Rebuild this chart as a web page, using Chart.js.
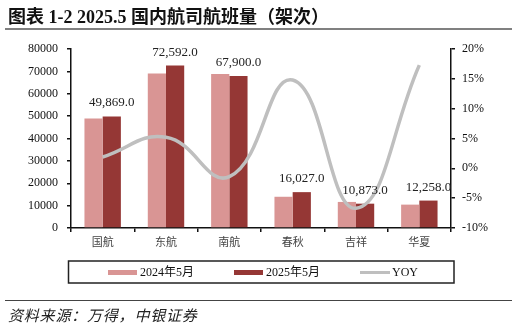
<!DOCTYPE html>
<html><head><meta charset="utf-8">
<script src="https://cdn.jsdelivr.net/npm/chart.js@4/dist/chart.umd.min.js"></script>
<style>
html,body{margin:0;padding:0;background:#fff;width:517px;height:328px;overflow:hidden;}
#wrap{position:relative;width:517px;height:328px;}
canvas{position:absolute;left:0;top:0;}
#title{position:absolute;left:8px;top:2px;font:bold 18px "Liberation Serif","Noto Sans CJK SC";color:#111;white-space:nowrap;}
#tline{position:absolute;left:5px;top:28px;width:507px;height:2px;background:#808080;}
#fline{position:absolute;left:5px;top:300px;width:507px;height:1px;background:#444;}
#src{position:absolute;left:8px;top:304px;font:italic 15px "Noto Sans CJK SC";letter-spacing:0.8px;color:#222;white-space:nowrap;}
</style></head><body>
<div id="wrap">
<canvas id="c" width="517" height="328"></canvas>
<div id="title">图表 1-2 2025.5 国内航司航班量（架次）</div>
<div id="tline"></div>
<div id="fline"></div>
<div id="src">资料来源：万得，中银证券</div>
</div>
<script>
const categories = ["国航","东航","南航","春秋","吉祥","华夏"];
const series2024 = [48950, 69000, 68800, 13960, 11650, 10450];
const series2025 = [49869, 72592, 67900, 16027, 10873, 12258];
const yoy = [1.9, 5.2, -1.4, 14.8, -6.7, 17.3];
const seriesNames = ["2024年5月","2025年5月","YOY"];

const SERIF = '"Liberation Serif","Noto Sans CJK SC"';
const colors = ["#D99594","#953735","#BFBFBF"];

const labelPlugin = {
  id:'labels',
  afterDatasetsDraw(chart){
    const ctx = chart.ctx;
    const meta = chart.getDatasetMeta(2);
    ctx.save();
    ctx.font = '13px ' + SERIF;
    ctx.fillStyle = '#222';
    ctx.textAlign = 'center';
    ctx.textBaseline = 'alphabetic';
    meta.data.forEach((el,i)=>{
      const v = series2025[i];
      const s = v.toLocaleString('en-US',{minimumFractionDigits:1,maximumFractionDigits:1});
      ctx.fillText(s, el.x, el.y - 10);
    });
    ctx.restore();
  }
};

const legendPlugin = {
  id:'customLegend',
  afterDraw(chart){
    const ctx = chart.ctx;
    const a = chart.chartArea;
    ctx.save();
    ctx.strokeStyle = '#222';
    ctx.lineWidth = 1.5;
    ctx.strokeRect(a.left - 2.5, 261, (a.right + 3) - (a.left - 2.5), 22);
    const items = [
      {x:108, type:'bar', c:colors[0], t:seriesNames[0]},
      {x:234, type:'bar', c:colors[1], t:seriesNames[1]},
      {x:360, type:'line', c:colors[2], t:seriesNames[2]}
    ];
    ctx.font = '12px ' + SERIF;
    ctx.textBaseline = 'middle';
    ctx.textAlign = 'left';
    items.forEach(it=>{
      ctx.fillStyle = it.c;
      if(it.type==='bar') ctx.fillRect(it.x, 270, 29, 5);
      else ctx.fillRect(it.x, 271, 30, 3);
      ctx.fillStyle = '#111';
      ctx.fillText(it.t, it.x + 32, 272.5);
    });
    ctx.restore();
  }
};

new Chart(document.getElementById('c'), {
  type:'bar',
  data:{
    labels: categories,
    datasets:[
      {type:'line', label:seriesNames[2], data:yoy, yAxisID:'y1', borderColor:colors[2], borderWidth:3.5, pointRadius:0, tension:0.45, fill:false, order:0},
      {label:seriesNames[0], data:series2024, backgroundColor:colors[0], yAxisID:'y', order:1, categoryPercentage:0.575, barPercentage:1},
      {label:seriesNames[1], data:series2025, backgroundColor:colors[1], yAxisID:'y', order:2, categoryPercentage:0.575, barPercentage:1}
    ]
  },
  options:{
    responsive:false,
    animation:false,
    devicePixelRatio:1,
    layout:{padding:{left:0,right:0,top:49,bottom:80}},
    plugins:{legend:{display:false}, tooltip:{enabled:false}},
    scales:{
      x:{
        offset:true,
        grid:{display:true, drawOnChartArea:false, offset:true, color:'#111', tickLength:4, lineWidth:1.5},
        border:{display:true, color:'#111', width:1.5},
        ticks:{font:{size:11, family:'"Noto Sans CJK SC"'}, color:'#444', padding:3},
        afterFit(s){ s.height = 20; }
      },
      y:{
        position:'left', min:0, max:80000,
        ticks:{stepSize:10000, font:{size:12, family:SERIF}, color:'#111', padding:9, callback:v=>String(v)},
        grid:{display:true, drawOnChartArea:false, color:'#111', tickLength:4, lineWidth:1.5},
        border:{display:true, color:'#111', width:1.5},
        afterFit(s){ s.width = 71; }
      },
      y1:{
        position:'right', min:-10, max:20,
        ticks:{stepSize:5, font:{size:12, family:SERIF}, color:'#111', padding:7, callback:v=>v+'%'},
        grid:{display:true, drawOnChartArea:false, color:'#111', tickLength:4, lineWidth:1.5},
        border:{display:true, color:'#111', width:1.5},
        afterFit(s){ s.width = 66; }
      }
    }
  },
  plugins:[labelPlugin, legendPlugin]
});
</script>
</body></html>
